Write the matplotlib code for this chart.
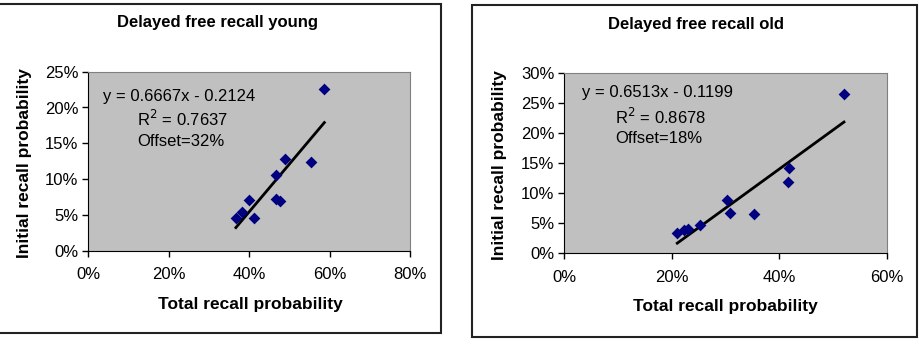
import matplotlib
matplotlib.use("Agg")
import matplotlib.pyplot as plt
from matplotlib.patches import Rectangle
from matplotlib.ticker import FuncFormatter, MultipleLocator
import numpy as np

plt.rcParams['font.family'] = ['Liberation Sans', 'DejaVu Sans']

# Data: young
young_x = [0.367, 0.381, 0.400, 0.413, 0.466, 0.468, 0.477, 0.488, 0.555, 0.587]
young_y = [0.0456, 0.0535, 0.0708, 0.0456, 0.1057, 0.0726, 0.0694, 0.128, 0.1243, 0.2258]
young_slope, young_icept = 0.6667, -0.2124
young_title = "Delayed free recall young"
young_eq = ["y = 0.6667x - 0.2124", "R$^2$ = 0.7637", "Offset=32%"]

# Data: old
old_x = [0.210, 0.223, 0.230, 0.253, 0.303, 0.309, 0.353, 0.415, 0.418, 0.520]
old_y = [0.0339, 0.0389, 0.0406, 0.0467, 0.0889, 0.0678, 0.0661, 0.119, 0.142, 0.265]
old_slope, old_icept = 0.6513, -0.1199
old_title = "Delayed free recall old"
old_eq = ["y = 0.6513x - 0.1199", "R$^2$ = 0.8678", "Offset=18%"]

W, H = 920, 346
fig = plt.figure(figsize=(W/100, H/100), dpi=100)

def fx(px):
    return px / W
def fy(py):
    return 1 - py / H

pct = FuncFormatter(lambda v, p: f"{v*100:.0f}%")

def panel(frame, axbox, xs, ys, slope, icept, xmax, xstep, ymax, ystep,
          title, title_pos, eq, eq_pos, xl_pos, yl_pos):
    fx0, fy0, fx1, fy1 = frame
    fig.add_artist(Rectangle((fx(fx0), fy(fy1)), fx(fx1 - fx0), (fy1 - fy0) / H,
                             transform=fig.transFigure, fill=False,
                             edgecolor='#222222', linewidth=1.5))
    l, t, r, b = axbox
    ax = fig.add_axes([fx(l), fy(b), fx(r - l), (b - t) / H])
    ax.set_facecolor('#C0C0C0')
    ax.scatter(xs, ys, marker='D', s=36, color='#000080', zorder=3, linewidths=0)
    xx = np.array([min(xs), max(xs)])
    ax.plot(xx, slope * xx + icept, color='black', linewidth=2, zorder=2)
    ax.set_xlim(0, xmax)
    ax.set_ylim(0, ymax)
    ax.xaxis.set_major_locator(MultipleLocator(xstep))
    ax.yaxis.set_major_locator(MultipleLocator(ystep))
    ax.xaxis.set_major_formatter(pct)
    ax.yaxis.set_major_formatter(pct)
    ax.tick_params(axis='x', direction='out', length=4, width=1, pad=8, labelsize=12, colors='black')
    ax.tick_params(axis='y', direction='out', length=4, width=1, pad=3, labelsize=12, colors='black')
    for s in ['top', 'right']:
        ax.spines[s].set_color('#808080')
    for s in ['left', 'bottom']:
        ax.spines[s].set_color('black')
    fig.text(fx(title_pos[0]), fy(title_pos[1]), title, ha='center', va='center',
             fontsize=12, fontweight='bold')
    fig.text(fx(xl_pos[0]), fy(xl_pos[1]), "Total recall probability", ha='center', va='center',
             fontsize=12.5, fontweight='bold')
    fig.text(fx(yl_pos[0]), fy(yl_pos[1]), "Initial recall probability", ha='center', va='center',
             fontsize=12.5, fontweight='bold', rotation=90)
    ex, ey = eq_pos
    fig.text(fx(ex[0]), fy(ey[0]), eq[0], ha='left', va='center', fontsize=12)
    fig.text(fx(ex[1]), fy(ey[1]), eq[1], ha='left', va='center', fontsize=12)
    fig.text(fx(ex[1]), fy(ey[2]), eq[2], ha='left', va='center', fontsize=12)
    return ax

panel((-4, 3.5, 441, 333), (88.3, 71.7, 410, 250.7), young_x, young_y, young_slope, young_icept,
      0.8, 0.2, 0.25, 0.05, young_title, (218, 23), young_eq,
      ((103, 137), (96, 119, 142)), (250, 304), (25, 163))

panel((472, 5, 917, 337), (564.3, 73.3, 887, 253.3), old_x, old_y, old_slope, old_icept,
      0.6, 0.2, 0.30, 0.05, old_title, (696, 25), old_eq,
      ((582, 615), (93, 117, 138)), (725, 307), (500, 165))

fig.savefig("out.png", dpi=100)
